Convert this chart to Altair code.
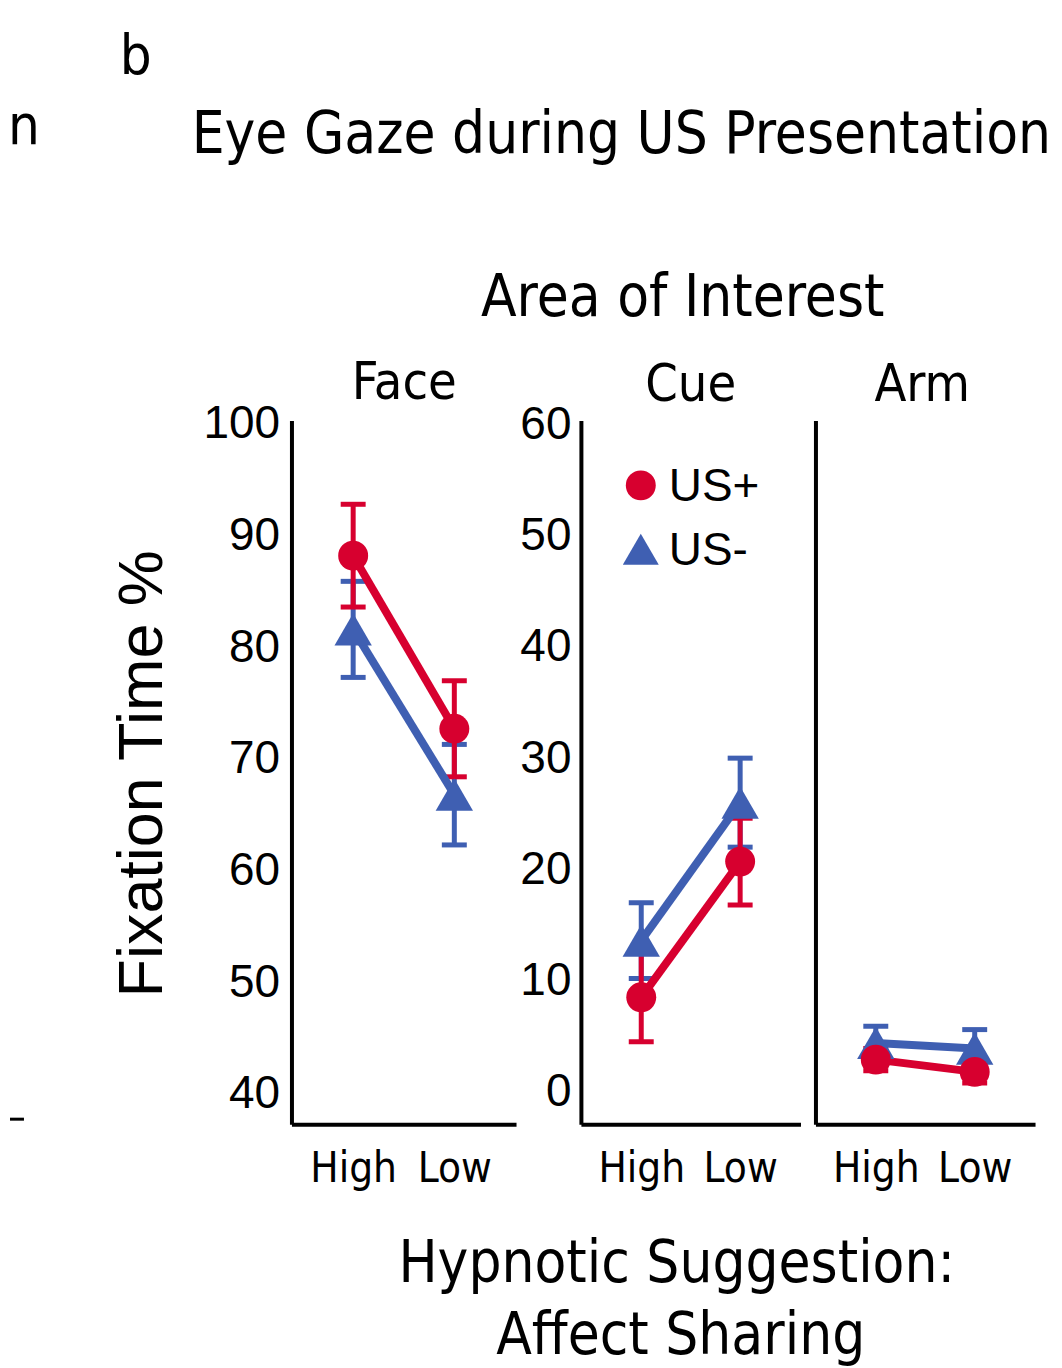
import altair as alt
import pandas as pd

# ---------------- data ----------------
levels = ["High", "Low"]
face_us_plus = [88.2, 72.7]
face_us_plus_se = [4.6, 4.3]
face_us_minus = [81.6, 66.8]
face_us_minus_se = [4.3, 4.5]
cue_us_plus = [8.5, 20.7]
cue_us_plus_se = [4.0, 3.9]
cue_us_minus = [13.6, 26.0]
cue_us_minus_se = [3.4, 4.0]
arm_us_plus = [2.9, 1.8]
arm_us_plus_se = [1.0, 1.0]
arm_us_minus = [4.4, 3.9]
arm_us_minus_se = [1.5, 1.7]
face_ticks = [40, 50, 60, 70, 80, 90, 100]
cue_ticks = [0, 10, 20, 30, 40, 50, 60]
panel_titles = ["Face", "Cue", "Arm"]
series_names = ["US+", "US-"]
main_title = "Eye Gaze during US Presentation"
panel_label = "b"
cut_label = "n"
group_title = "Area of Interest"
y_title = "Fixation Time %"
x_title = ["Hypnotic Suggestion:", "Affect Sharing"]

RED = "#d7002f"
BLUE = "#3f5fb2"
COND = "DejaVu Sans Condensed, DejaVu Sans, sans-serif"
NARROW = "Liberation Sans Narrow, Liberation Sans, sans-serif"
SANS = "Liberation Sans, Arial, sans-serif"


def make_df(plus, plus_se, minus, minus_se):
    rows = []
    for us, m, s in (("US-", minus, minus_se), ("US+", plus, plus_se)):
        for lv, mv, sv in zip(levels, m, s):
            rows.append({"level": lv, "us": us, "mean": mv, "lo": mv - sv, "hi": mv + sv})
    return pd.DataFrame(rows)


def text_layer(label, x, y, size, font, align="left", baseline="alphabetic", angle=0):
    return alt.Chart(pd.DataFrame({"t": [label]})).mark_text(
        align=align, baseline=baseline, fontSize=size, font=font, color="black", angle=angle
    ).encode(x=alt.value(x), y=alt.value(y), text="t:N")


def panel(df, width, ydomain, yvalues, show_ylabels, label_pad, extra):
    xscale = alt.Scale(type="point", domain=levels, padding=0.61)
    xaxis = alt.Axis(title=None, ticks=False, grid=False, domainWidth=4, domainColor="black",
                     labelFont=COND, labelFontSize=42, labelPadding=24, labelAngle=0,
                     labelColor="black")
    yscale = alt.Scale(domain=ydomain, nice=False, zero=False)
    yaxis = alt.Axis(title=None, values=yvalues, ticks=False, grid=False, domainWidth=4,
                     domainColor="black", labels=show_ylabels, labelFont=NARROW,
                     labelFontSize=46, labelPadding=label_pad, labelColor="black")
    x = alt.X("level:N", scale=xscale, axis=xaxis)
    bars, lines, pts = [], [], []
    for us, color in (("US-", BLUE), ("US+", RED)):
        sub = df[df["us"] == us]
        c = alt.Chart(sub)
        bars.append(c.mark_rule(strokeWidth=5, color=color).encode(
            x=x, y=alt.Y("lo:Q", scale=yscale, axis=yaxis), y2="hi:Q"))
        bars.append(c.mark_tick(size=25, thickness=5, color=color, opacity=1).encode(
            x=x, y=alt.Y("hi:Q", scale=yscale, axis=yaxis)))
        bars.append(c.mark_tick(size=25, thickness=5, color=color, opacity=1).encode(
            x=x, y=alt.Y("lo:Q", scale=yscale, axis=yaxis)))
        lines.append(c.mark_line(strokeWidth=8, color=color).encode(
            x=x, y=alt.Y("mean:Q", scale=yscale, axis=yaxis)))
        if us == "US+":
            pts.append(c.mark_point(shape="circle", filled=True, size=900, color=color,
                                    opacity=1, strokeWidth=0).encode(
                x=x, y=alt.Y("mean:Q", scale=yscale, axis=yaxis)))
        else:
            pts.append(c.mark_point(shape="triangle-up", filled=True, size=1400, color=color,
                                    opacity=1, strokeWidth=0).encode(
                x=x, y=alt.Y("mean:Q", scale=yscale, axis=yaxis)))
    return alt.layer(*extra, *bars, *lines, *pts).properties(width=width, height=705)


face_df = make_df(face_us_plus, face_us_plus_se, face_us_minus, face_us_minus_se)
cue_df = make_df(cue_us_plus, cue_us_plus_se, cue_us_minus, cue_us_minus_se)
arm_df = make_df(arm_us_plus, arm_us_plus_se, arm_us_minus, arm_us_minus_se)

# invisible frame that pins the whole picture to the page
frame = alt.Chart(pd.DataFrame({"t": [0]})).mark_rect(opacity=0).encode(
    x=alt.value(-282), x2=alt.value(764), y=alt.value(-412), y2=alt.value(940))
stub = alt.Chart(pd.DataFrame({"t": [0]})).mark_rule(strokeWidth=3, color="black").encode(
    x=alt.value(-282), x2=alt.value(-268), y=alt.value(700))

face_extra = [
    frame, stub,
    text_layer(panel_label, -172, -347, 56, COND),
    text_layer(cut_label, -284, -277, 56, COND),
    text_layer(main_title, -100, -268, 58, COND),
    text_layer(group_title, 392, -105, 58, COND, align="center"),
    text_layer(x_title[0], 386, 863, 58, COND, align="center"),
    text_layer(x_title[1], 390, 935, 58, COND, align="center"),
    text_layer(y_title, -149, 354, 63, SANS, align="center", baseline="middle", angle=270),
    text_layer(panel_titles[0], 113, -22, 52, COND, align="center"),
]

legend_layers = [
    alt.Chart(pd.DataFrame({"t": [0]})).mark_point(shape="circle", filled=True, size=900, color=RED,
                                                  opacity=1, strokeWidth=0).encode(
        x=alt.value(60), y=alt.value(65)),
    alt.Chart(pd.DataFrame({"t": [0]})).mark_point(shape="triangle-up", filled=True, size=1300,
                                                  color=BLUE, opacity=1, strokeWidth=0).encode(
        x=alt.value(60), y=alt.value(129)),
    text_layer(series_names[0], 88, 67, 46, NARROW, baseline="middle"),
    text_layer(series_names[1], 88, 131, 46, NARROW, baseline="middle"),
]

cue_extra = [text_layer(panel_titles[1], 110, -20, 52, COND, align="center")] + legend_layers
arm_extra = [text_layer(panel_titles[2], 107, -20, 52, COND, align="center")]

face = panel(face_df, 225, [37.3, 100.3], face_ticks, True, 12, face_extra)
cue = panel(cue_df, 220, [-2.9, 60.35], cue_ticks, True, 10, cue_extra)
arm = panel(arm_df, 220, [-2.9, 60.35], cue_ticks, False, 10, arm_extra)

inner = alt.hconcat(cue, arm, spacing=15, bounds="flush").resolve_scale(x="independent", y="independent")
chart = alt.hconcat(face, inner, spacing=65, bounds="flush", padding=0,
                    background="white").resolve_scale(
    x="independent", y="independent"
).configure_view(stroke="transparent", strokeWidth=0)

chart.save("out.html", embed_options={"renderer": "svg", "actions": False})
